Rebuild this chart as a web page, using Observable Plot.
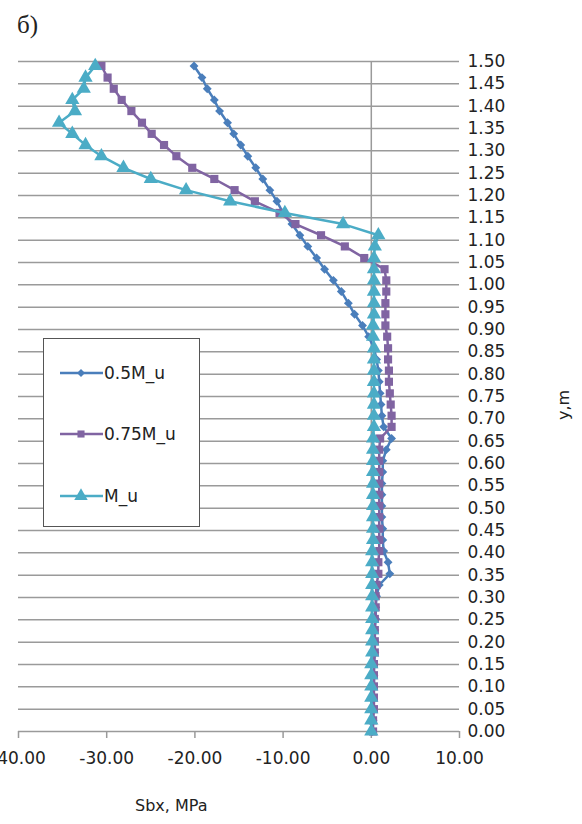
<!DOCTYPE html>
<html><head><meta charset="utf-8">
<script src="https://cdn.jsdelivr.net/npm/d3@7"></script>
<script src="https://cdn.jsdelivr.net/npm/@observablehq/plot@0.6"></script>
<style>
body{margin:0;background:#fff;}
#wrap{position:relative;width:582px;height:824px;overflow:hidden;font-family:"DejaVu Sans",sans-serif;color:#222;}
#chart{position:absolute;left:0;top:0;}
#title{position:absolute;left:17px;top:12px;font-family:"Liberation Serif",serif;font-size:25px;line-height:1;}
#xlabel{position:absolute;left:135px;top:798px;font-size:16px;line-height:1;}
#ylabel{position:absolute;left:564px;top:405px;transform:translate(-50%,-50%) rotate(-90deg);font-size:16px;line-height:1;white-space:nowrap;}
#legend{position:absolute;left:43px;top:338px;width:155px;height:187px;border:1.5px solid #555;background:#fff;}
#legend svg{display:block;}
</style></head>
<body>
<div id="wrap">
  <div id="chart"></div>
  <div id="title">б)</div>
  <div id="xlabel">Sbx, MPa</div>
  <div id="ylabel">y,m</div>
  <div id="legend"></div>
</div>
<script>
// y positions of the nodes (m), top to bottom
const yNodes = [
  1.490, 1.464, 1.439, 1.414, 1.389, 1.363, 1.338, 1.313, 1.288, 1.262,
  1.237, 1.212, 1.187, 1.161, 1.136, 1.111, 1.086, 1.060, 1.035, 1.010,
  0.985, 0.959, 0.934, 0.909, 0.884, 0.858, 0.833, 0.808, 0.783, 0.757,
  0.732, 0.707, 0.682, 0.656, 0.631, 0.606, 0.581, 0.555, 0.530, 0.505,
  0.480, 0.454, 0.429, 0.404, 0.379, 0.353, 0.328, 0.303, 0.278, 0.252,
  0.227, 0.202, 0.177, 0.151, 0.126, 0.101, 0.076, 0.050, 0.025, 0.000
];
// Sbx, MPa for 0.5M_u
const s05 = [
  -20.1, -19.2, -18.6, -17.8, -17.2, -16.3, -15.6, -14.8, -14.0, -13.1,
  -12.3, -11.5, -10.7, -10.0, -9.0, -8.1, -7.2, -6.2, -5.3, -4.3,
  -3.4, -2.6, -1.9, -1.0, -0.3, 0.3, 0.6, 0.8, 0.9, 1.0,
  1.1, 1.2, 1.4, 2.3, 1.7, 1.3, 1.3, 1.2, 1.2, 1.2,
  1.2, 1.3, 1.3, 1.4, 1.9, 2.1, 0.9, 0.6, 0.5, 0.5,
  0.4, 0.4, 0.4, 0.3, 0.3, 0.3, 0.2, 0.2, 0.2, 0.1
];
// Sbx, MPa for 0.75M_u
const s075 = [
  -30.6, -29.9, -29.2, -28.3, -27.2, -26.0, -24.9, -23.5, -22.1, -20.3,
  -17.8, -15.5, -13.2, -10.4, -8.6, -5.7, -3.0, -0.8, 1.5, 1.7,
  1.7, 1.6, 1.6, 1.6, 1.8, 1.9, 1.9, 2.0, 2.0, 2.1,
  2.2, 2.3, 2.3, 1.0, 0.9, 0.9, 0.9, 0.9, 0.9, 0.9,
  0.9, 0.9, 0.9, 0.9, 0.8, 0.8, 0.6, 0.5, 0.5, 0.4,
  0.4, 0.4, 0.4, 0.3, 0.3, 0.3, 0.3, 0.3, 0.2, 0.2
];
// Sbx, MPa for M_u
const s1 = [
  -31.3, -32.4, -32.6, -33.9, -33.6, -35.4, -33.9, -32.4, -30.6, -28.1,
  -25.0, -21.0, -16.0, -9.8, -3.2, 0.8, 0.4, 0.3, 0.3, 0.3,
  0.3, 0.3, 0.3, 0.2, 0.2, 0.3, 0.3, 0.3, 0.3, 0.3,
  0.3, 0.3, 0.3, 0.2, 0.2, 0.2, 0.2, 0.2, 0.2, 0.2,
  0.2, 0.2, 0.2, 0.1, 0.1, 0.1, 0.1, 0.1, 0.1, 0.1,
  0.1, 0.1, 0.1, 0.0, 0.0, 0.0, 0.0, 0.0, 0.0, 0.0
];
const seriesNames = ["0.5M_u", "0.75M_u", "M_u"];
const seriesColors = ["#4a7ebb", "#8064a2", "#4bacc6"];
const seriesSymbols = ["diamond2", "square", "triangle"];
const xTicks = [-40, -30, -20, -10, 0, 10];
const yTicks = [0, 0.05, 0.10, 0.15, 0.20, 0.25, 0.30, 0.35, 0.40, 0.45, 0.50,
  0.55, 0.60, 0.65, 0.70, 0.75, 0.80, 0.85, 0.90, 0.95, 1.00,
  1.05, 1.10, 1.15, 1.20, 1.25, 1.30, 1.35, 1.40, 1.45, 1.50];

const seriesValues = [s05, s075, s1];
const markR = [4.0, 4.6, 5.3];
const seriesMarks = [];
seriesValues.forEach((vals, i) => {
  const rows = yNodes.map((y, j) => ({x: vals[j], y}));
  seriesMarks.push(Plot.line(rows, {x: "x", y: "y", stroke: seriesColors[i], strokeWidth: 2.5}));
  seriesMarks.push(Plot.dot(rows, {x: "x", y: "y", symbol: seriesSymbols[i], r: markR[i], fill: seriesColors[i], stroke: "none"}));
});

const grey = "#9a9a9a";
const chart = Plot.plot({
  width: 582, height: 824,
  marginLeft: 18, marginRight: 123, marginTop: 61, marginBottom: 93,
  x: {domain: [-40, 10]},
  y: {domain: [0, 1.5]},
  style: {fontFamily: "DejaVu Sans", fontSize: "17px", background: "transparent", color: "#222"},
  marks: [
    Plot.gridY(yTicks, {stroke: grey, strokeOpacity: 1, strokeWidth: 1.5}),
    Plot.ruleX([0], {stroke: grey, strokeWidth: 1.5}),
    Plot.axisX(xTicks, {tickSize: 7, tickPadding: 13, stroke: grey, strokeWidth: 1.5, fill: "#222", fontSize: 17, tickFormat: d => d.toFixed(2), label: null}),
    Plot.axisY(yTicks, {anchor: "right", tickSize: 0, tickPadding: 8, fill: "#222", fontSize: 17, tickFormat: d => d.toFixed(2), label: null}),
    ...seriesMarks
  ]
});
document.getElementById("chart").appendChild(chart);

// legend
const lg = d3.select("#legend").append("svg").attr("width", 155).attr("height", 187);
const rowsY = [34, 95, 157];
const legR = [3.6, 4.0, 5.0];
seriesNames.forEach((name, i) => {
  const g = lg.append("g").attr("transform", `translate(0,${rowsY[i]})`);
  g.append("line").attr("x1", 16).attr("x2", 59).attr("y1", 0).attr("y2", 0)
    .attr("stroke", seriesColors[i]).attr("stroke-width", 2.5);
  const sym = [d3.symbolDiamond2, d3.symbolSquare, d3.symbolTriangle][i];
  g.append("path").attr("transform", "translate(37,0)")
    .attr("d", d3.symbol(sym, Math.PI * legR[i] * legR[i])())
    .attr("fill", seriesColors[i]);
  g.append("text").attr("x", 60).attr("y", 0).attr("dy", "0.35em")
    .attr("font-family", "DejaVu Sans").attr("font-size", 17).attr("fill", "#222").text(name);
});
</script>
</body></html>
